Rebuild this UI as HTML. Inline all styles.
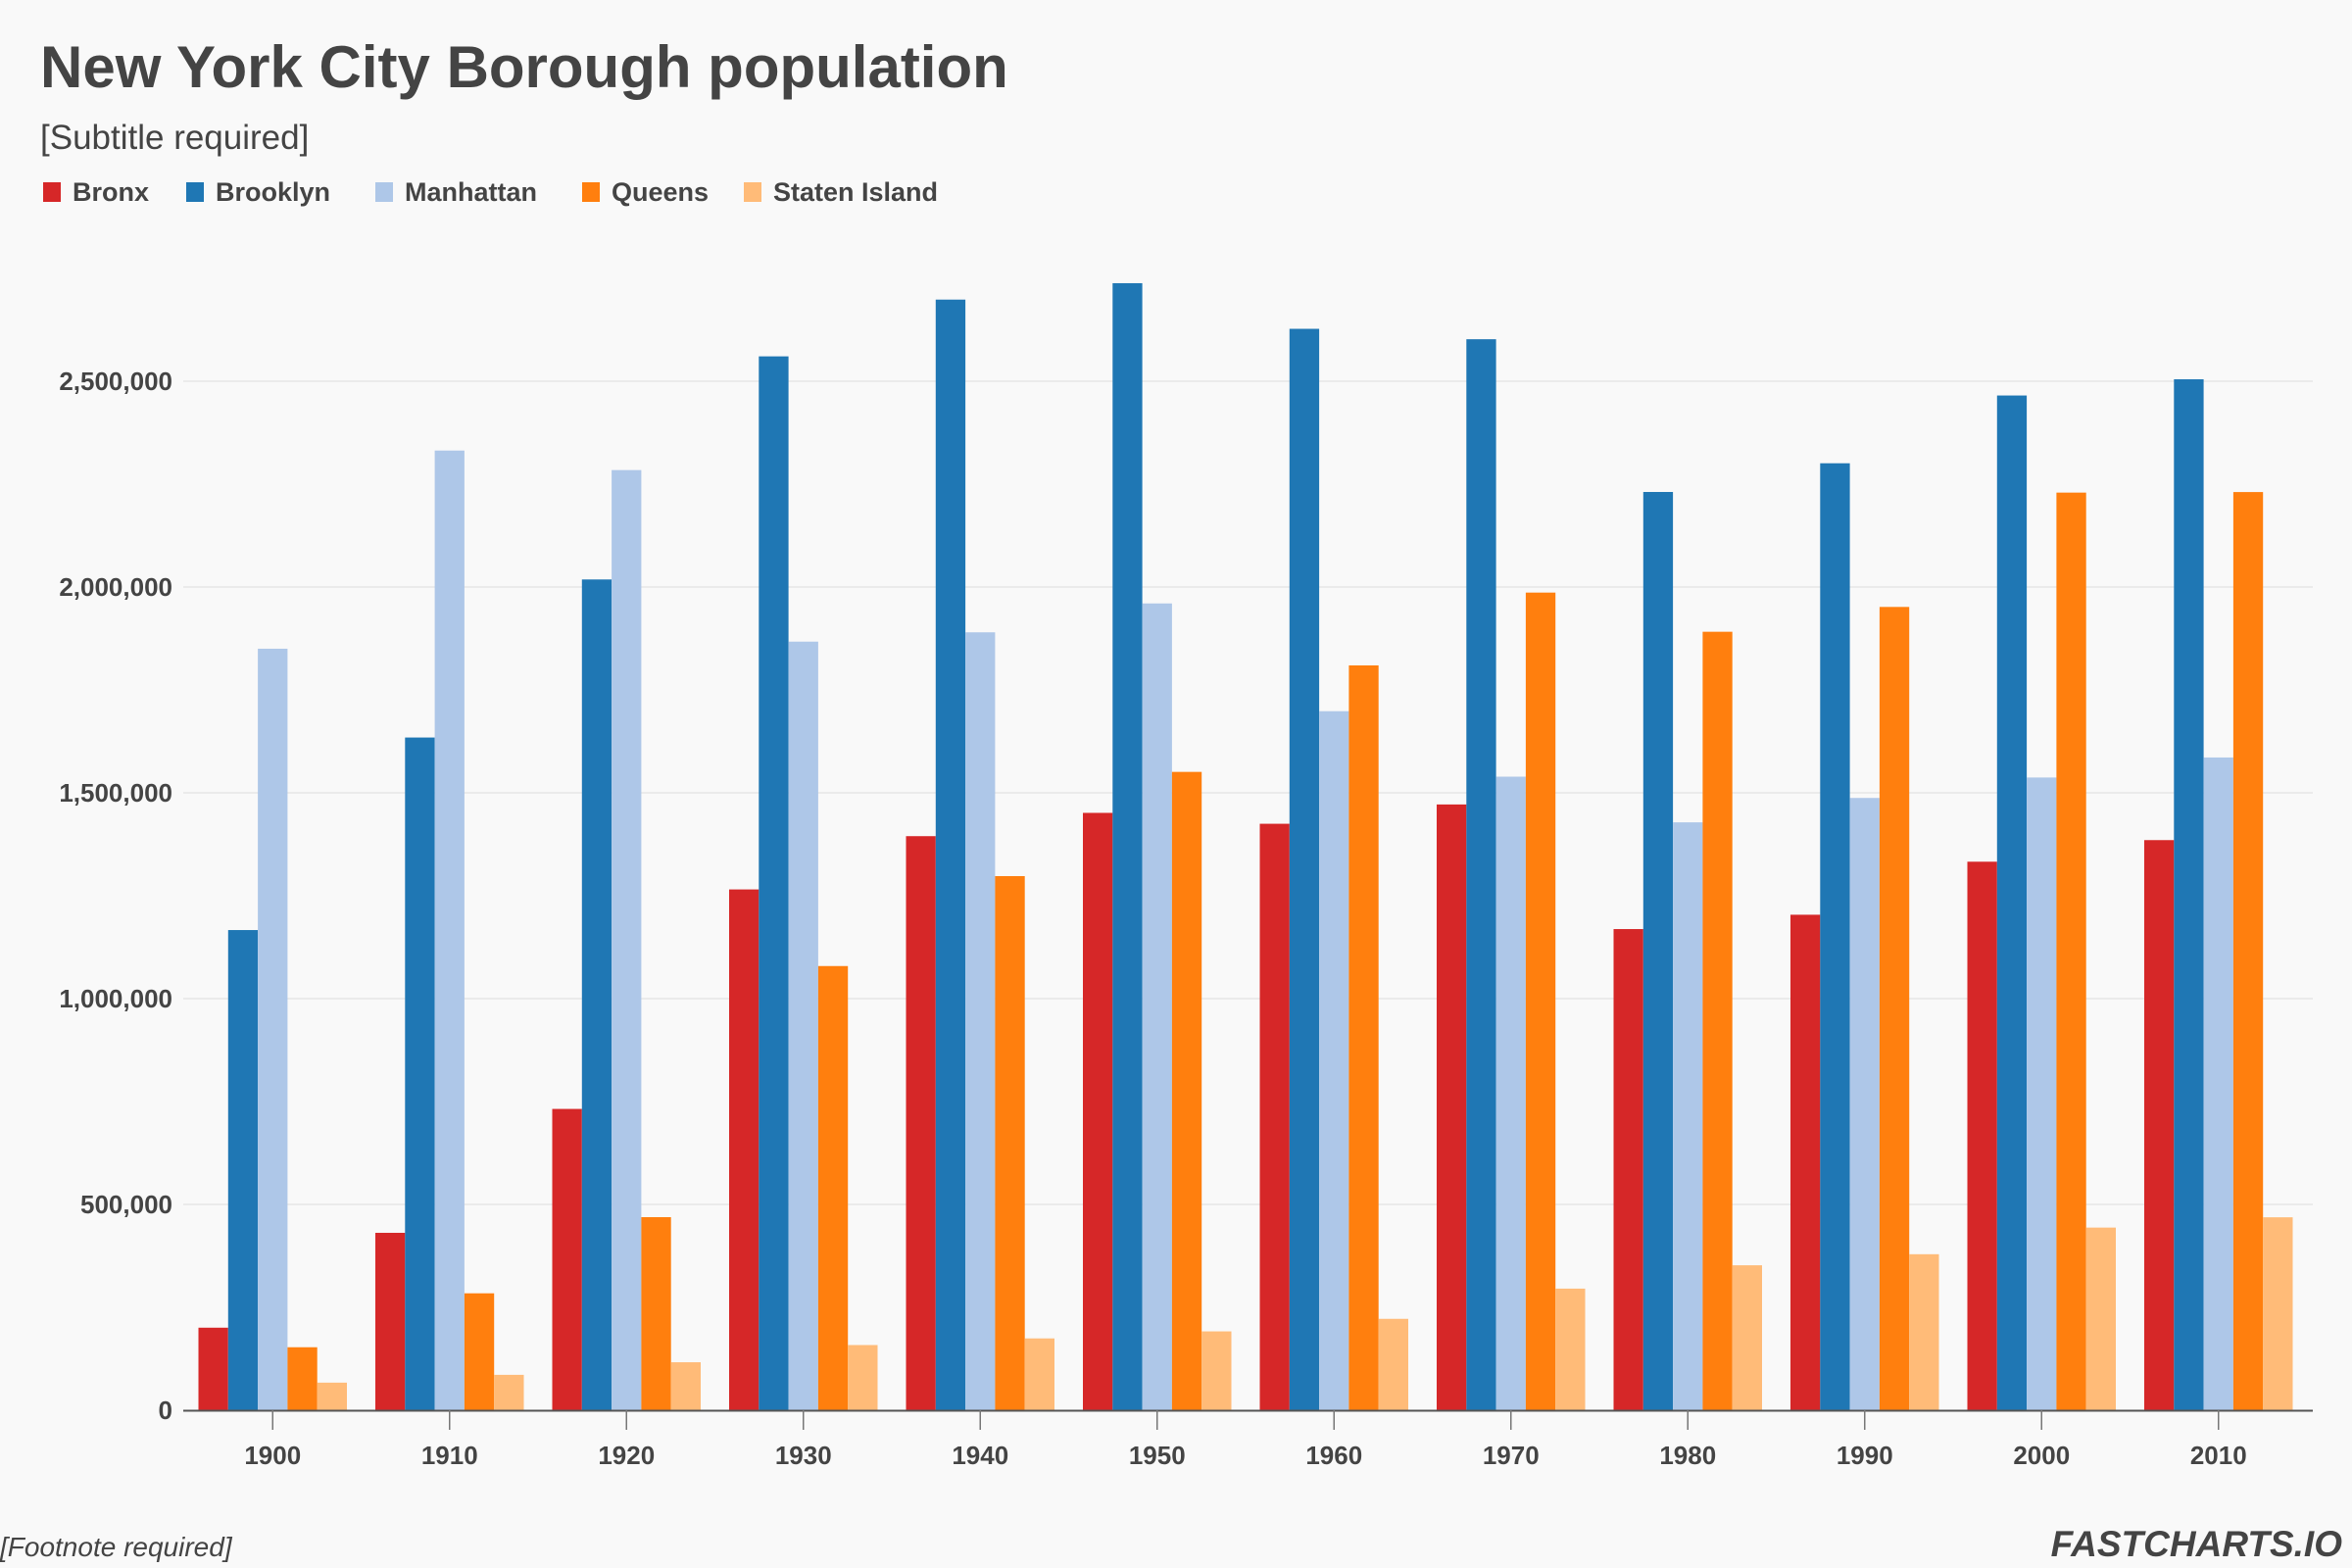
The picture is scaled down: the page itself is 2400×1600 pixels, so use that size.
<!DOCTYPE html>
<html><head><meta charset="utf-8"><style>
html,body{margin:0;padding:0;background:#f9f9f9;}
body{width:2400px;height:1600px;position:relative;overflow:hidden;font-family:"Liberation Sans",Arial,sans-serif;color:#444;}
svg{position:absolute;left:0;top:0;}
</style></head><body>
<svg id="chart" width="2400" height="1600">
<text x="41" y="89" font-size="60" font-weight="bold" fill="#444">New York City Borough population</text>
<text x="41" y="152" font-size="35" fill="#444">[Subtitle required]</text>
<g id="legend"></g>
<g id="grid"></g>
<g id="bars"></g>
<g id="xaxis"></g>
<g id="yaxis"></g>
<text x="0" y="1588" font-size="28" font-style="italic" fill="#444">[Footnote required]</text>
<text x="2390" y="1588" font-size="37" font-style="italic" font-weight="bold" fill="#444" text-anchor="end">FASTCHARTS.IO</text>
</svg>
<script>
const categories = ["1900","1910","1920","1930","1940","1950","1960","1970","1980","1990","2000","2010"];
const seriesNames = ["Bronx","Brooklyn","Manhattan","Queens","Staten Island"];
const bronx = [200507,430980,732016,1265258,1394711,1451277,1424815,1471701,1168972,1203789,1332650,1385108];
const brooklyn = [1166582,1634351,2018356,2560401,2698285,2738175,2627319,2602012,2230936,2300664,2465326,2504700];
const manhattan = [1850093,2331542,2284103,1867312,1889924,1960101,1698281,1539233,1428285,1487536,1537195,1585873];
const queens = [152999,284041,469042,1079129,1297634,1550849,1809578,1986473,1891325,1951598,2229379,2230722];
const statenIsland = [67021,85969,116531,158346,174441,191555,221991,295443,352121,378977,443728,468730];
const yTicks = [0,500000,1000000,1500000,2000000,2500000];
const yTickLabels = ["0","500,000","1,000,000","1,500,000","2,000,000","2,500,000"];

const series = [bronx, brooklyn, manhattan, queens, statenIsland];
const colors = ["#d62728","#1f77b4","#aec7e8","#ff7f0e","#ffbb78"];
const NS = "http://www.w3.org/2000/svg";
const X0 = 187, X1 = 2360, Y0 = 1439, PX_PER = 210/500000;
const PLOT_START = 188, band = 180.5;
const pad = 14.5;
const bw = (band - 2*pad) / series.length;
function yScale(v){ return Y0 - v*PX_PER; }
function xBand(i){ return PLOT_START + i*band; }
function mk(tag, attrs, parent){ const e=document.createElementNS(NS,tag); for(const k in attrs) e.setAttribute(k,attrs[k]); parent.appendChild(e); return e; }

const grid=document.getElementById('grid'), yaxis=document.getElementById('yaxis');
yTicks.forEach((t,i)=>{
  if(t>0){ const l=mk('line',{x1:X0,x2:X1,y1:yScale(t),y2:yScale(t),stroke:'#ebebeb','stroke-width':2},grid);
    
     }
  const tx=mk('text',{x:176,y:yScale(t)+9,'font-size':26,'font-weight':'bold','text-anchor':'end',fill:'#444'},yaxis);
  tx.textContent=yTickLabels[i];
  
  
});

const bars=document.getElementById('bars');
categories.forEach((c,i)=>{
  series.forEach((s,j)=>{
    const v=s[i];
    const r=mk('rect',{x:xBand(i)+pad+j*bw,y:yScale(v),width:bw,height:Y0-yScale(v),fill:colors[j]},bars);
    
    
  });
});

const xaxis=document.getElementById('xaxis');
const ax=mk('line',{x1:X0,x2:X1,y1:Y0+0.5,y2:Y0+0.5,stroke:'#555','stroke-width':2},xaxis);


categories.forEach((c,i)=>{
  const cx=xBand(i)+band/2;
  const tk=mk('line',{x1:cx,x2:cx,y1:Y0,y2:Y0+20,stroke:'#777','stroke-width':1.5},xaxis);
  
  
  const tx=mk('text',{x:cx,y:1494,'font-size':26,'font-weight':'bold','text-anchor':'middle',fill:'#444'},xaxis);
  tx.textContent=c;
  
  
});

const legend=document.getElementById('legend');
const lx=[44,190,383,594,759];
seriesNames.forEach((n,j)=>{
  const g=mk('g',{},legend);
  
  
  mk('rect',{x:lx[j],y:186,width:18,height:20,fill:colors[j]},g);
  const t=mk('text',{x:lx[j]+30,y:205,'font-size':27,'font-weight':'bold',fill:'#444'},g);
  t.textContent=n;
});
</script>
</body></html>
